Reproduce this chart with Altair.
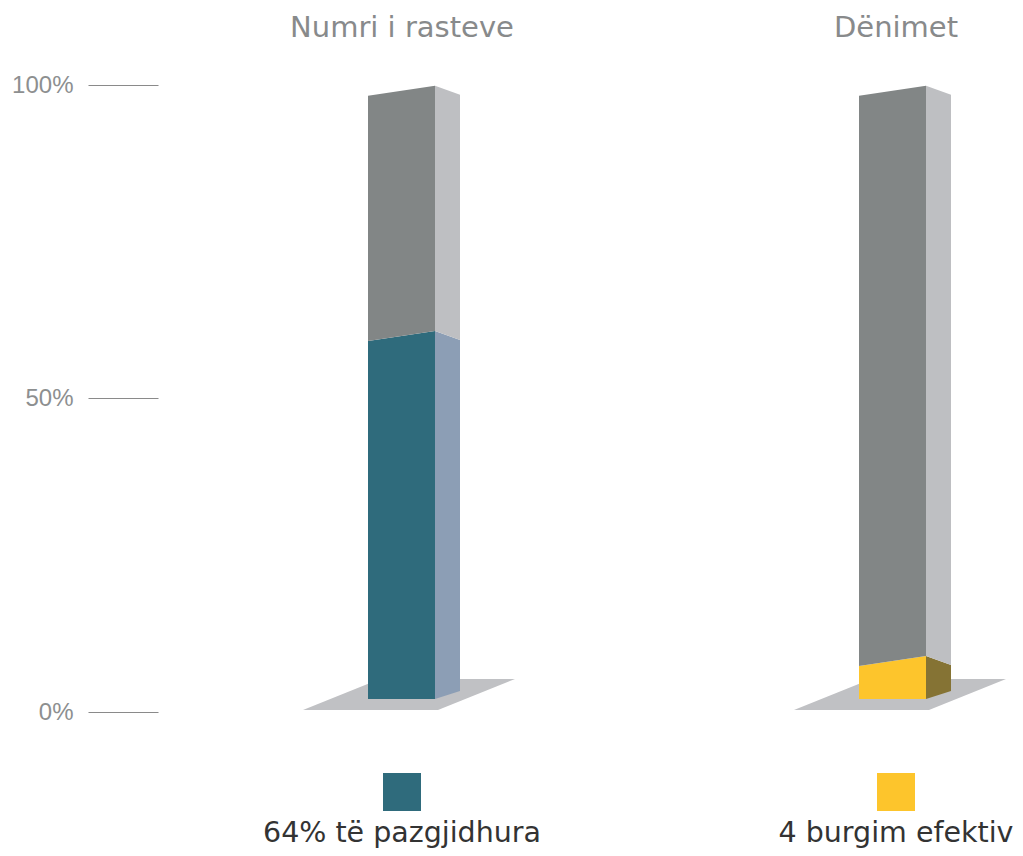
import altair as alt
import pandas as pd

# ---------------- data ----------------
categories = ["Numri i rasteve", "Dënimet"]
highlight_pct = [60, 7]          # coloured part of each 100% column
total_pct = [100, 100]
legend_labels = ["64% të pazgjidhura", "4 burgim efektiv"]
axis_values = [0, 50, 100]

# ---------------- styles ----------------
front_colors = ["#2F6B7C", "#FDC52C"]
side_colors = ["#8C9EB5", "#857334"]
rest_front = "#828686"
rest_side = "#BEBFC2"
shadow_col = "#C0C1C4"
title_col = "#888A8B"
axis_col = "#8D8F90"
legend_text_col = "#333333"

# ---------------- layout ----------------
PAD_L = 150
W = 857
H = 840
PX = 6.27                     # pixels per percentage point
Y_MAX = 100 + 77 / PX
Y_MIN = -(848 - 712) / PX
X0, STEP, FW, DEPTH = 210, 491, 67, 25
LABEL_X = [244, 738]          # centres of the column captions (plot units)
BASE = 13 / PX
TOP = 99.9
SLANT = 10 / PX
SIDE_DROP = 9 / PX
BOTTOM_RISE = 8 / PX


def h(v, total):
    return BASE + v / total * (TOP - BASE)


faces = []
shadows = []
labels = []
fid = 0
for i, cat in enumerate(categories):
    xl = X0 + STEP * i
    xr = xl + FW
    xb = xr + DEPTH
    tot = total_pct[i]
    segs = [(0, highlight_pct[i], front_colors[i], side_colors[i]),
            (highlight_pct[i], tot, rest_front, rest_side)]
    for v0, v1, fc, sc in segs:
        # front face
        if v0 == 0:
            lo_l, lo_r = BASE, BASE
        else:
            lo_l, lo_r = h(v0, tot) - SLANT, h(v0, tot)
        up_l, up_r = h(v1, tot) - SLANT, h(v1, tot)
        faces.append(dict(id=fid, x=xl, y=up_l, y2=lo_l, fill=fc))
        faces.append(dict(id=fid, x=xr, y=up_r, y2=lo_r, fill=fc))
        fid += 1
        # side face
        if v0 == 0:
            slo_f, slo_b = BASE, BASE + BOTTOM_RISE
        else:
            slo_f, slo_b = h(v0, tot), h(v0, tot) - SIDE_DROP
        sup_f, sup_b = h(v1, tot), h(v1, tot) - SIDE_DROP
        faces.append(dict(id=fid, x=xr, y=sup_f, y2=slo_f, fill=sc))
        faces.append(dict(id=fid, x=xb, y=sup_b, y2=slo_b, fill=sc))
        fid += 1
    # floor shadow
    shadows.append(dict(id=i, y=2 / PX, x=xl - 65, x2=xl + 70))
    shadows.append(dict(id=i, y=33 / PX, x=xl + 12, x2=xl + 147))
    labels.append(dict(kind="title", x=LABEL_X[i], y=(712 - 37) / PX, text=cat))
    labels.append(dict(kind="legend", x=LABEL_X[i], y=(712 - 842) / PX, text=legend_labels[i]))

faces_df = pd.DataFrame(faces)
shadows_df = pd.DataFrame(shadows)
labels_df = pd.DataFrame(labels)
squares_df = pd.DataFrame(dict(
    x=LABEL_X,
    y=[(712 - 792) / PX] * len(categories),
    fill=front_colors,
))

xscale = alt.Scale(domain=[0, W], nice=False, zero=False)
yscale = alt.Scale(domain=[Y_MIN, Y_MAX], nice=False, zero=False)

shadow_layer = alt.Chart(shadows_df).mark_area(orient="horizontal", color=shadow_col).encode(
    y=alt.Y("y:Q", scale=yscale,
            axis=alt.Axis(values=axis_values, labelExpr="datum.value + '%'",
                          tickSize=70, labelPadding=15, domain=False, grid=False,
                          title=None, tickColor="#8A8A8A", tickWidth=1.2,
                          labelColor=axis_col, labelFont="Liberation Sans",
                          labelFontSize=24)),
    x=alt.X("x:Q", scale=xscale, axis=None),
    x2="x2:Q",
    detail="id:N",
)

face_layer = alt.Chart(faces_df).mark_area(interpolate="linear").encode(
    x=alt.X("x:Q", scale=xscale, axis=None),
    y=alt.Y("y:Q", stack=None),
    y2="y2:Q",
    color=alt.Color("fill:N", scale=None),
    detail="id:N",
)

title_layer = alt.Chart(labels_df).transform_filter(alt.datum.kind == "title").mark_text(
    font="DejaVu Sans", fontSize=29, color=title_col, align="center", baseline="alphabetic"
).encode(x="x:Q", y="y:Q", text="text:N")

legend_text_layer = alt.Chart(labels_df).transform_filter(alt.datum.kind == "legend").mark_text(
    font="DejaVu Sans", fontSize=28.5, color=legend_text_col, align="center", baseline="alphabetic"
).encode(x="x:Q", y="y:Q", text="text:N")

square_layer = alt.Chart(squares_df).mark_square(size=1444, opacity=1, filled=True).encode(
    x="x:Q", y="y:Q", color=alt.Color("fill:N", scale=None)
)

chart = alt.layer(
    shadow_layer, face_layer, title_layer, square_layer, legend_text_layer
).properties(
    width=W, height=H, autosize="none",
    padding={"left": PAD_L, "top": 0, "right": 0, "bottom": 0},
    background="white",
).configure_view(strokeWidth=0)

chart.save("out.html", embed_options={"renderer": "svg", "actions": False})
